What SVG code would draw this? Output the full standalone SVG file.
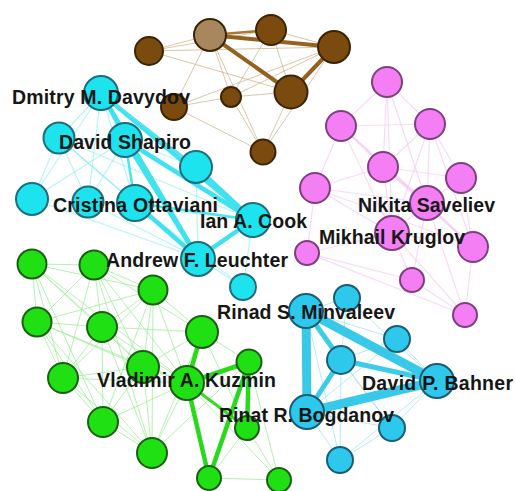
<svg xmlns="http://www.w3.org/2000/svg" width="515" height="491" viewBox="0 0 515 491">
<style>
.n circle{stroke-width:2}
.brown{fill:#7a4a0e;stroke:#3b2404}
.brownl{fill:#a8875e;stroke:#3b2404}
.cy{fill:#1de3ef;stroke:#1d6e7a}
.cb{fill:#2ec8ec;stroke:#1b5d72}
.pk{fill:#f47ef4;stroke:#7d3f7d}
.gr{fill:#1fe012;stroke:#1c5e14}
.e line{stroke-linecap:round}
.bt{stroke:#cdb38c;stroke-width:1;stroke-opacity:.75}
.bT{stroke:#94621e;stroke-width:4}
.bM{stroke:#a8773a;stroke-width:2.5}
.ct{stroke:#7fe9f2;stroke-width:1.2;stroke-opacity:.55}
.cT{stroke:#3fe2ee;stroke-width:4.5}
.cM{stroke:#4fe3ef;stroke-width:2.5}
.pt{stroke:#f4c2f4;stroke-width:1.2;stroke-opacity:.6}
.gt{stroke:#95e990;stroke-width:1;stroke-opacity:.7}
.gT{stroke:#2ad81c;stroke-width:4.5}
.gM{stroke:#3ada2c;stroke-width:3}
.dt{stroke:#8fdff2;stroke-width:1;stroke-opacity:.65}
.dT{stroke:#38c9e8;stroke-width:9}
.dM{stroke:#3ccbe9;stroke-width:5}
text{font-family:"Liberation Sans",Arial,sans-serif;font-weight:bold;font-size:19.5px;fill:#161616}
</style>
<rect width="515" height="491" fill="#ffffff"/>
<g id="connectors" class="e">
<line class="bt" x1="149" y1="51" x2="210" y2="35"/>
<line class="bt" x1="149" y1="51" x2="271" y2="30"/>
<line class="bt" x1="149" y1="51" x2="334" y2="47"/>
<line class="bt" x1="149" y1="51" x2="291" y2="92"/>
<line class="bt" x1="210" y1="35" x2="174" y2="107"/>
<line class="bt" x1="210" y1="35" x2="263" y2="152"/>
<line class="bt" x1="210" y1="35" x2="231" y2="97"/>
<line class="bt" x1="271" y1="30" x2="231" y2="97"/>
<line class="bt" x1="271" y1="30" x2="291" y2="92"/>
<line class="bt" x1="271" y1="30" x2="334" y2="47"/>
<line class="bt" x1="334" y1="47" x2="174" y2="107"/>
<line class="bt" x1="334" y1="47" x2="231" y2="97"/>
<line class="bt" x1="334" y1="47" x2="263" y2="152"/>
<line class="bt" x1="174" y1="107" x2="231" y2="97"/>
<line class="bt" x1="174" y1="107" x2="263" y2="152"/>
<line class="bt" x1="231" y1="97" x2="291" y2="92"/>
<line class="bt" x1="231" y1="97" x2="263" y2="152"/>
<line class="bt" x1="291" y1="92" x2="263" y2="152"/>
<line class="bM" x1="210" y1="35" x2="271" y2="30"/>
<line class="bT" x1="210" y1="35" x2="334" y2="47"/>
<line class="bT" x1="210" y1="35" x2="291" y2="92"/>
<line class="bT" x1="334" y1="47" x2="291" y2="92"/>
<line class="pt" x1="387" y1="82" x2="341" y2="126"/>
<line class="pt" x1="387" y1="82" x2="430" y2="124"/>
<line class="pt" x1="387" y1="82" x2="383" y2="167"/>
<line class="pt" x1="387" y1="82" x2="427" y2="203"/>
<line class="pt" x1="387" y1="82" x2="392" y2="233"/>
<line class="pt" x1="341" y1="126" x2="430" y2="124"/>
<line class="pt" x1="341" y1="126" x2="383" y2="167"/>
<line class="pt" x1="341" y1="126" x2="427" y2="203"/>
<line class="pt" x1="341" y1="126" x2="392" y2="233"/>
<line class="pt" x1="341" y1="126" x2="315" y2="188"/>
<line class="pt" x1="341" y1="126" x2="473" y2="247"/>
<line class="pt" x1="430" y1="124" x2="383" y2="167"/>
<line class="pt" x1="430" y1="124" x2="461" y2="178"/>
<line class="pt" x1="430" y1="124" x2="427" y2="203"/>
<line class="pt" x1="430" y1="124" x2="473" y2="247"/>
<line class="pt" x1="430" y1="124" x2="392" y2="233"/>
<line class="pt" x1="383" y1="167" x2="427" y2="203"/>
<line class="pt" x1="383" y1="167" x2="392" y2="233"/>
<line class="pt" x1="383" y1="167" x2="315" y2="188"/>
<line class="pt" x1="383" y1="167" x2="473" y2="247"/>
<line class="pt" x1="383" y1="167" x2="461" y2="178"/>
<line class="pt" x1="461" y1="178" x2="427" y2="203"/>
<line class="pt" x1="461" y1="178" x2="473" y2="247"/>
<line class="pt" x1="315" y1="188" x2="427" y2="203"/>
<line class="pt" x1="315" y1="188" x2="392" y2="233"/>
<line class="pt" x1="315" y1="188" x2="307" y2="253"/>
<line class="pt" x1="315" y1="188" x2="473" y2="247"/>
<line class="pt" x1="427" y1="203" x2="392" y2="233"/>
<line class="pt" x1="427" y1="203" x2="473" y2="247"/>
<line class="pt" x1="427" y1="203" x2="465" y2="315"/>
<line class="pt" x1="427" y1="203" x2="412" y2="280"/>
<line class="pt" x1="392" y1="233" x2="473" y2="247"/>
<line class="pt" x1="392" y1="233" x2="412" y2="280"/>
<line class="pt" x1="392" y1="233" x2="307" y2="253"/>
<line class="pt" x1="392" y1="233" x2="465" y2="315"/>
<line class="pt" x1="307" y1="253" x2="412" y2="280"/>
<line class="pt" x1="307" y1="253" x2="465" y2="315"/>
<line class="pt" x1="412" y1="280" x2="465" y2="315"/>
<line class="pt" x1="473" y1="247" x2="465" y2="315"/>
<line class="ct" x1="59" y1="138" x2="32" y2="199"/>
<line class="ct" x1="59" y1="138" x2="88" y2="202"/>
<line class="ct" x1="59" y1="138" x2="135" y2="203"/>
<line class="ct" x1="59" y1="138" x2="198" y2="258"/>
<line class="ct" x1="59" y1="138" x2="101" y2="93"/>
<line class="ct" x1="59" y1="138" x2="125" y2="140"/>
<line class="ct" x1="59" y1="138" x2="253" y2="220"/>
<line class="ct" x1="32" y1="199" x2="198" y2="258"/>
<line class="ct" x1="32" y1="199" x2="88" y2="202"/>
<line class="ct" x1="32" y1="199" x2="125" y2="140"/>
<line class="ct" x1="32" y1="199" x2="101" y2="93"/>
<line class="ct" x1="88" y1="202" x2="198" y2="258"/>
<line class="ct" x1="88" y1="202" x2="125" y2="140"/>
<line class="ct" x1="88" y1="202" x2="101" y2="93"/>
<line class="ct" x1="88" y1="202" x2="253" y2="220"/>
<line class="ct" x1="101" y1="93" x2="135" y2="203"/>
<line class="ct" x1="196" y1="167" x2="198" y2="258"/>
<line class="ct" x1="196" y1="167" x2="125" y2="140"/>
<line class="ct" x1="198" y1="258" x2="243" y2="287"/>
<line class="ct" x1="253" y1="220" x2="243" y2="287"/>
<line class="ct" x1="135" y1="203" x2="243" y2="287"/>
<line class="cM" x1="101" y1="93" x2="125" y2="140"/>
<line class="cM" x1="125" y1="140" x2="135" y2="203"/>
<line class="cM" x1="135" y1="203" x2="253" y2="220"/>
<line class="cT" x1="101" y1="93" x2="198" y2="258"/>
<line class="cT" x1="101" y1="93" x2="253" y2="220"/>
<line class="cM" x1="101" y1="93" x2="196" y2="167"/>
<line class="cT" x1="125" y1="140" x2="198" y2="258"/>
<line class="cT" x1="125" y1="140" x2="253" y2="220"/>
<line class="cT" x1="135" y1="203" x2="198" y2="258"/>
<line class="cT" x1="196" y1="167" x2="253" y2="220"/>
<line class="cT" x1="253" y1="220" x2="198" y2="258"/>
<line class="gt" x1="32" y1="264" x2="94" y2="265"/>
<line class="gt" x1="32" y1="264" x2="37" y2="322"/>
<line class="gt" x1="32" y1="264" x2="102" y2="327"/>
<line class="gt" x1="32" y1="264" x2="153" y2="290"/>
<line class="gt" x1="32" y1="264" x2="63" y2="378"/>
<line class="gt" x1="32" y1="264" x2="143" y2="367"/>
<line class="gt" x1="32" y1="264" x2="103" y2="422"/>
<line class="gt" x1="32" y1="264" x2="187" y2="383"/>
<line class="gt" x1="94" y1="265" x2="153" y2="290"/>
<line class="gt" x1="94" y1="265" x2="37" y2="322"/>
<line class="gt" x1="94" y1="265" x2="102" y2="327"/>
<line class="gt" x1="94" y1="265" x2="143" y2="367"/>
<line class="gt" x1="94" y1="265" x2="187" y2="383"/>
<line class="gt" x1="94" y1="265" x2="63" y2="378"/>
<line class="gt" x1="94" y1="265" x2="202" y2="332"/>
<line class="gt" x1="94" y1="265" x2="152" y2="453"/>
<line class="gt" x1="153" y1="290" x2="102" y2="327"/>
<line class="gt" x1="153" y1="290" x2="37" y2="322"/>
<line class="gt" x1="153" y1="290" x2="143" y2="367"/>
<line class="gt" x1="153" y1="290" x2="187" y2="383"/>
<line class="gt" x1="153" y1="290" x2="202" y2="332"/>
<line class="gt" x1="153" y1="290" x2="63" y2="378"/>
<line class="gt" x1="153" y1="290" x2="103" y2="422"/>
<line class="gt" x1="153" y1="290" x2="152" y2="453"/>
<line class="gt" x1="37" y1="322" x2="102" y2="327"/>
<line class="gt" x1="37" y1="322" x2="63" y2="378"/>
<line class="gt" x1="37" y1="322" x2="143" y2="367"/>
<line class="gt" x1="37" y1="322" x2="103" y2="422"/>
<line class="gt" x1="37" y1="322" x2="152" y2="453"/>
<line class="gt" x1="37" y1="322" x2="187" y2="383"/>
<line class="gt" x1="102" y1="327" x2="202" y2="332"/>
<line class="gt" x1="102" y1="327" x2="143" y2="367"/>
<line class="gt" x1="102" y1="327" x2="187" y2="383"/>
<line class="gt" x1="102" y1="327" x2="63" y2="378"/>
<line class="gt" x1="102" y1="327" x2="103" y2="422"/>
<line class="gt" x1="102" y1="327" x2="152" y2="453"/>
<line class="gt" x1="63" y1="378" x2="143" y2="367"/>
<line class="gt" x1="63" y1="378" x2="103" y2="422"/>
<line class="gt" x1="63" y1="378" x2="152" y2="453"/>
<line class="gt" x1="63" y1="378" x2="187" y2="383"/>
<line class="gt" x1="143" y1="367" x2="187" y2="383"/>
<line class="gt" x1="143" y1="367" x2="202" y2="332"/>
<line class="gt" x1="143" y1="367" x2="103" y2="422"/>
<line class="gt" x1="143" y1="367" x2="152" y2="453"/>
<line class="gt" x1="103" y1="422" x2="152" y2="453"/>
<line class="gt" x1="103" y1="422" x2="187" y2="383"/>
<line class="gt" x1="152" y1="453" x2="187" y2="383"/>
<line class="gt" x1="152" y1="453" x2="202" y2="332"/>
<line class="gt" x1="152" y1="453" x2="249" y2="362"/>
<line class="gt" x1="202" y1="332" x2="249" y2="362"/>
<line class="gt" x1="202" y1="332" x2="247" y2="428"/>
<line class="gt" x1="209" y1="478" x2="279" y2="480"/>
<line class="gt" x1="247" y1="428" x2="279" y2="480"/>
<line class="gt" x1="249" y1="362" x2="279" y2="480"/>
<line class="gt" x1="187" y1="383" x2="279" y2="480"/>
<line class="gt" x1="247" y1="428" x2="209" y2="478"/>
<line class="gT" x1="187" y1="383" x2="202" y2="332"/>
<line class="gT" x1="187" y1="383" x2="249" y2="362"/>
<line class="gM" x1="187" y1="383" x2="247" y2="428"/>
<line class="gT" x1="187" y1="383" x2="209" y2="478"/>
<line class="gT" x1="249" y1="362" x2="247" y2="428"/>
<line class="gT" x1="249" y1="362" x2="209" y2="478"/>
<line class="dt" x1="306" y1="311" x2="347" y2="298"/>
<line class="dt" x1="306" y1="311" x2="397" y2="339"/>
<line class="dt" x1="347" y1="298" x2="437" y2="381"/>
<line class="dt" x1="347" y1="298" x2="341" y2="360"/>
<line class="dt" x1="397" y1="339" x2="437" y2="381"/>
<line class="dt" x1="397" y1="339" x2="341" y2="360"/>
<line class="dt" x1="397" y1="339" x2="307" y2="412"/>
<line class="dt" x1="307" y1="412" x2="392" y2="428"/>
<line class="dt" x1="307" y1="412" x2="340" y2="460"/>
<line class="dt" x1="392" y1="428" x2="340" y2="460"/>
<line class="dt" x1="437" y1="381" x2="392" y2="428"/>
<line class="dt" x1="437" y1="381" x2="340" y2="460"/>
<line class="dt" x1="341" y1="360" x2="392" y2="428"/>
<line class="dt" x1="341" y1="360" x2="340" y2="460"/>
<line class="dt" x1="306" y1="311" x2="392" y2="428"/>
<line class="dt" x1="306" y1="311" x2="340" y2="460"/>
<line class="dT" x1="306" y1="311" x2="307" y2="412"/>
<line class="dT" x1="306" y1="311" x2="437" y2="381"/>
<line class="dT" x1="307" y1="412" x2="437" y2="381"/>
<line class="dM" x1="306" y1="311" x2="341" y2="360"/>
<line class="dM" x1="307" y1="412" x2="341" y2="360"/>
<line class="dM" x1="341" y1="360" x2="437" y2="381"/>
</g>
<g id="n-b4" class="n"><circle class="brown" cx="149" cy="51" r="14"/></g>
<g id="n-b1" class="n"><circle class="brownl" cx="210" cy="35" r="16"/></g>
<g id="n-b2" class="n"><circle class="brown" cx="271" cy="30" r="15"/></g>
<g id="n-b3" class="n"><circle class="brown" cx="334" cy="47" r="16"/></g>
<g id="n-b5" class="n"><circle class="brown" cx="174" cy="107" r="13"/></g>
<g id="n-b6" class="n"><circle class="brown" cx="231" cy="97" r="10"/></g>
<g id="n-b7" class="n"><circle class="brown" cx="291" cy="92" r="16.5"/></g>
<g id="n-b8" class="n"><circle class="brown" cx="263" cy="152" r="12.5"/></g>
<g id="n-p1" class="n"><circle class="pk" cx="387" cy="82" r="15"/></g>
<g id="n-p2" class="n"><circle class="pk" cx="341" cy="126" r="15"/></g>
<g id="n-p3" class="n"><circle class="pk" cx="430" cy="124" r="15"/></g>
<g id="n-p4" class="n"><circle class="pk" cx="383" cy="167" r="15"/></g>
<g id="n-p5" class="n"><circle class="pk" cx="461" cy="178" r="15"/></g>
<g id="n-p6" class="n"><circle class="pk" cx="315" cy="188" r="15"/></g>
<g id="n-p7" class="n"><circle class="pk" cx="427" cy="203" r="17"/></g>
<g id="n-p8" class="n"><circle class="pk" cx="392" cy="233" r="17"/></g>
<g id="n-p9" class="n"><circle class="pk" cx="473" cy="247" r="15"/></g>
<g id="n-p10" class="n"><circle class="pk" cx="307" cy="253" r="12"/></g>
<g id="n-p11" class="n"><circle class="pk" cx="412" cy="280" r="12"/></g>
<g id="n-p12" class="n"><circle class="pk" cx="465" cy="315" r="12"/></g>
<g id="n-c1" class="n"><circle class="cy" cx="101" cy="93" r="17"/></g>
<g id="n-c2" class="n"><circle class="cy" cx="59" cy="138" r="15.5"/></g>
<g id="n-c3" class="n"><circle class="cy" cx="125" cy="140" r="17"/></g>
<g id="n-c4" class="n"><circle class="cy" cx="196" cy="167" r="16"/></g>
<g id="n-c5" class="n"><circle class="cy" cx="32" cy="199" r="16"/></g>
<g id="n-c6" class="n"><circle class="cy" cx="88" cy="202" r="15.5"/></g>
<g id="n-c7" class="n"><circle class="cy" cx="135" cy="203" r="18"/></g>
<g id="n-c8" class="n"><circle class="cy" cx="253" cy="220" r="17"/></g>
<g id="n-c9" class="n"><circle class="cy" cx="198" cy="259" r="17"/></g>
<g id="n-c10" class="n"><circle class="cy" cx="243" cy="287" r="13"/></g>
<g id="n-g1" class="n"><circle class="gr" cx="32" cy="264" r="14.5"/></g>
<g id="n-g2" class="n"><circle class="gr" cx="94" cy="265" r="14.5"/></g>
<g id="n-g3" class="n"><circle class="gr" cx="153" cy="290" r="14.5"/></g>
<g id="n-g4" class="n"><circle class="gr" cx="37" cy="322" r="14.5"/></g>
<g id="n-g5" class="n"><circle class="gr" cx="102" cy="327" r="15"/></g>
<g id="n-g6" class="n"><circle class="gr" cx="202" cy="332" r="16"/></g>
<g id="n-g7" class="n"><circle class="gr" cx="143" cy="367" r="16"/></g>
<g id="n-g8" class="n"><circle class="gr" cx="249" cy="362" r="12.5"/></g>
<g id="n-g9" class="n"><circle class="gr" cx="187" cy="383" r="17"/></g>
<g id="n-g10" class="n"><circle class="gr" cx="63" cy="378" r="15"/></g>
<g id="n-g11" class="n"><circle class="gr" cx="247" cy="428" r="12"/></g>
<g id="n-g12" class="n"><circle class="gr" cx="103" cy="422" r="15"/></g>
<g id="n-g13" class="n"><circle class="gr" cx="152" cy="453" r="15"/></g>
<g id="n-g14" class="n"><circle class="gr" cx="209" cy="478" r="12"/></g>
<g id="n-g15" class="n"><circle class="gr" cx="279" cy="480" r="12"/></g>
<g id="n-d3" class="n"><circle class="cb" cx="347" cy="298" r="13"/></g>
<g id="n-d2" class="n"><circle class="cb" cx="306" cy="311" r="17"/></g>
<g id="n-d4" class="n"><circle class="cb" cx="397" cy="339" r="13"/></g>
<g id="n-d5" class="n"><circle class="cb" cx="341" cy="360" r="14"/></g>
<g id="n-d6" class="n"><circle class="cb" cx="437" cy="381" r="17"/></g>
<g id="n-d7" class="n"><circle class="cb" cx="307" cy="412" r="17"/></g>
<g id="n-d8" class="n"><circle class="cb" cx="392" cy="428" r="13"/></g>
<g id="n-d9" class="n"><circle class="cb" cx="340" cy="460" r="13"/></g>
<g id="labels">
<text x="12" y="104" textLength="178">Dmitry M. Davydov</text>
<text x="59" y="149" textLength="132">David Shapiro</text>
<text x="53" y="212" textLength="165">Cristina Ottaviani</text>
<text x="200" y="228" textLength="107">Ian A. Cook</text>
<text x="106" y="267" textLength="182">Andrew F. Leuchter</text>
<text x="358" y="212" textLength="137">Nikita Saveliev</text>
<text x="319" y="244" textLength="146">Mikhail Kruglov</text>
<text x="217" y="319" textLength="178">Rinad S. Minvaleev</text>
<text x="97" y="387" textLength="179">Vladimir A. Kuzmin</text>
<text x="362" y="390" textLength="151">David P. Bahner</text>
<text x="219" y="422" textLength="175">Rinat R. Bogdanov</text>
</g>
</svg>
